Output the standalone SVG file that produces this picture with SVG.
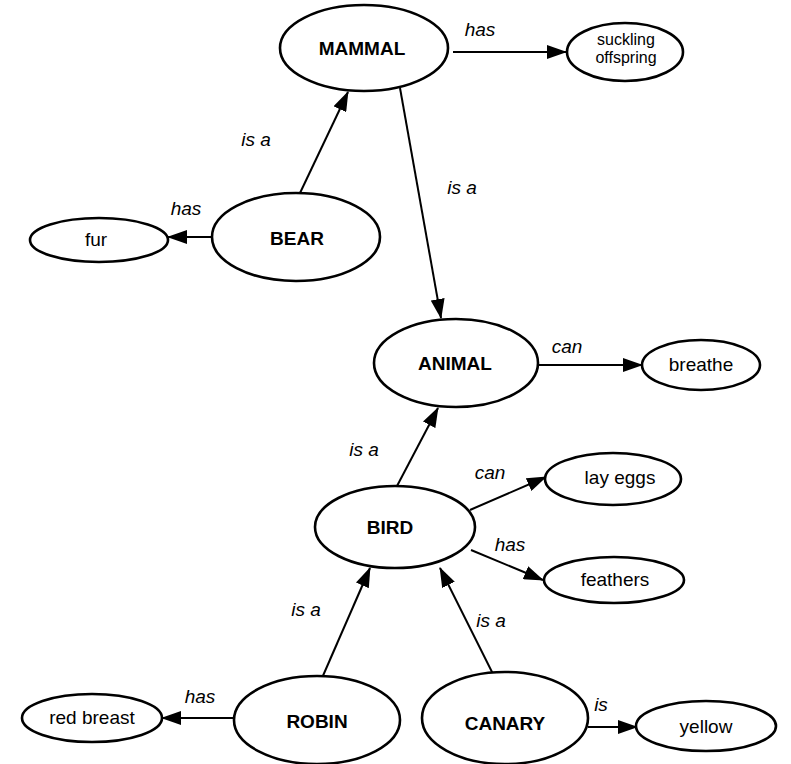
<svg xmlns="http://www.w3.org/2000/svg" width="791" height="764" viewBox="0 0 791 764">
<defs>
<marker id="ah" markerUnits="userSpaceOnUse" markerWidth="20" markerHeight="14" refX="19" refY="7" orient="auto">
<path d="M0,0 L20,7 L0,14 Z" fill="#000"/>
</marker>
<style>
.n ellipse{fill:#fff;stroke:#000;stroke-width:2.6}
.b{font-family:"Liberation Sans",Arial,sans-serif;font-weight:bold;font-size:19px;text-anchor:middle;fill:#000}
.t{font-family:"Liberation Sans",Arial,sans-serif;font-size:19px;text-anchor:middle;fill:#000}
.s{font-family:"Liberation Sans",Arial,sans-serif;font-size:16px;text-anchor:middle;fill:#000}
.l{font-family:"Liberation Sans",Arial,sans-serif;font-style:italic;font-size:19px;text-anchor:middle;fill:#000}
.e line{stroke:#000;stroke-width:2;marker-end:url(#ah)}
</style>
</defs>
<rect width="791" height="764" fill="#fff"/>
<g id="connectors" class="e">
<line x1="453" y1="52" x2="566" y2="52"/>
<line x1="300" y1="193" x2="348" y2="92"/>
<line x1="400" y1="88" x2="441" y2="318"/>
<line x1="212" y1="237" x2="168" y2="237"/>
<line x1="538" y1="365" x2="642" y2="365"/>
<line x1="397" y1="486" x2="438" y2="408"/>
<line x1="470" y1="510" x2="546" y2="477"/>
<line x1="471" y1="550" x2="543" y2="580"/>
<line x1="322" y1="678" x2="370" y2="568"/>
<line x1="493" y1="674" x2="440" y2="568"/>
<line x1="235" y1="718" x2="162" y2="718"/>
<line x1="588" y1="727" x2="637" y2="727"/>
</g>
<g id="labels">
<text class="l" x="480" y="36">has</text>
<text class="l" x="256" y="146">is a</text>
<text class="l" x="462" y="194">is a</text>
<text class="l" x="186" y="215">has</text>
<text class="l" x="567" y="353">can</text>
<text class="l" x="364" y="456">is a</text>
<text class="l" x="490" y="479">can</text>
<text class="l" x="510" y="551">has</text>
<text class="l" x="306" y="616">is a</text>
<text class="l" x="491" y="627">is a</text>
<text class="l" x="200" y="703">has</text>
<text class="l" x="601" y="711">is</text>
</g>
<g id="mammal" class="n"><ellipse cx="364" cy="48" rx="84" ry="43"/><text class="b" x="362" y="55">MAMMAL</text></g>
<g id="suckling" class="n"><ellipse cx="625" cy="52" rx="58" ry="29"/><text class="s" x="626" y="45">suckling</text><text class="s" x="626" y="63">offspring</text></g>
<g id="bear" class="n"><ellipse cx="296" cy="237" rx="84" ry="44"/><text class="b" x="297" y="245">BEAR</text></g>
<g id="fur" class="n"><ellipse cx="99" cy="240" rx="69" ry="22"/><text class="t" x="96" y="246">fur</text></g>
<g id="animal" class="n"><ellipse cx="456" cy="363" rx="82" ry="44"/><text class="b" x="455" y="370">ANIMAL</text></g>
<g id="breathe" class="n"><ellipse cx="701" cy="365" rx="59" ry="25"/><text class="t" x="701" y="371">breathe</text></g>
<g id="bird" class="n"><ellipse cx="395" cy="527" rx="80" ry="41"/><text class="b" x="390" y="534">BIRD</text></g>
<g id="layeggs" class="n"><ellipse cx="613" cy="479" rx="68" ry="26"/><text class="t" x="620" y="484">lay eggs</text></g>
<g id="feathers" class="n"><ellipse cx="614" cy="580" rx="70" ry="23"/><text class="t" x="615" y="586">feathers</text></g>
<g id="robin" class="n"><ellipse cx="317" cy="720" rx="83" ry="44"/><text class="b" x="317" y="728">ROBIN</text></g>
<g id="redbreast" class="n"><ellipse cx="92" cy="718" rx="70" ry="24"/><text class="t" x="92" y="724">red breast</text></g>
<g id="canary" class="n"><ellipse cx="505" cy="718" rx="83" ry="46"/><text class="b" x="505" y="730">CANARY</text></g>
<g id="yellow" class="n"><ellipse cx="706" cy="726" rx="70" ry="25"/><text class="t" x="706" y="733">yellow</text></g>
</svg>
